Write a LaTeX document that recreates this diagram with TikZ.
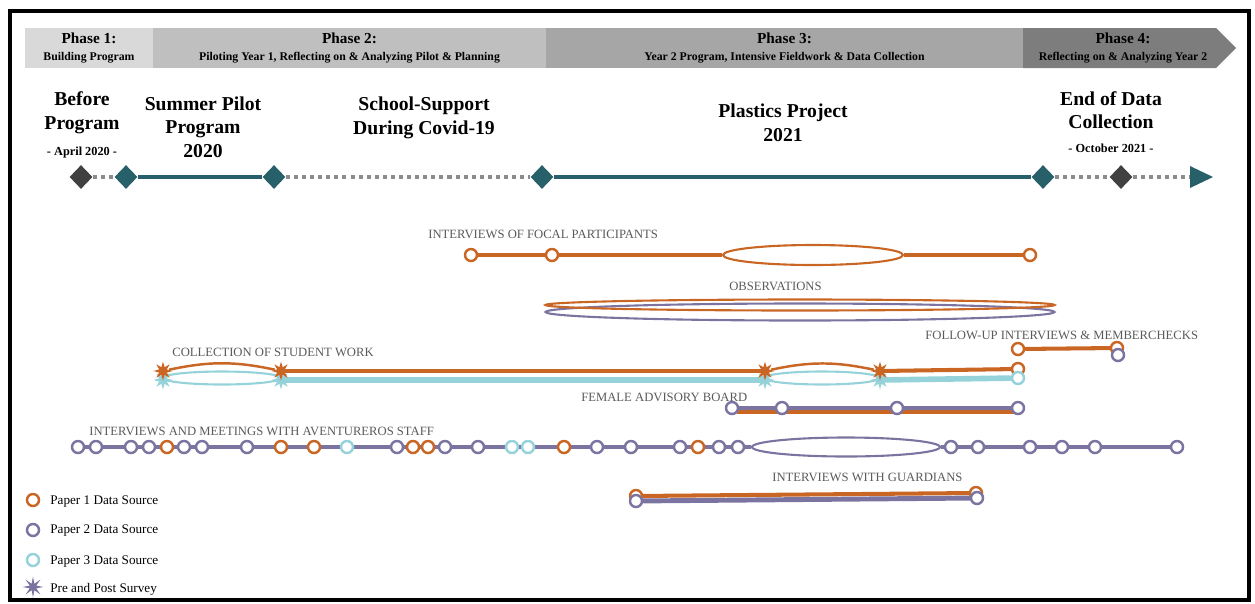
\documentclass[tikz,border=0pt]{standalone}
\usepackage{fontspec}
\setmainfont{Liberation Serif}
\usetikzlibrary{shapes.geometric,backgrounds}

\definecolor{orng}{RGB}{202,102,36}
\definecolor{purp}{RGB}{124,116,160}
\definecolor{aqua}{RGB}{150,210,218}
\definecolor{tealdk}{RGB}{40,96,106}
\definecolor{dkgray}{RGB}{64,64,64}
\definecolor{dotgray}{RGB}{140,140,140}
\definecolor{labgray}{RGB}{90,90,90}
\definecolor{ph1}{RGB}{217,217,217}
\definecolor{ph2}{RGB}{191,191,191}
\definecolor{ph3}{RGB}{166,166,166}
\definecolor{ph4}{RGB}{125,125,125}

\tikzset{
  src/.style={circle, draw=#1, fill=white, line width=1.4pt, minimum size=0.24cm, inner sep=0pt},
  survey/.style={star, star points=8, star point ratio=2.3, fill=#1, inner sep=0pt, minimum size=0.38cm},
  milestone/.style={diamond, fill=#1, inner sep=0pt, minimum width=0.46cm, minimum height=0.48cm},
  rowline/.style={draw=#1, line width=2.3pt},
  ring/.style={ellipse, draw=#1, line width=1.2pt, inner sep=0pt},
  rowlabel/.style={text=labgray, font=\fontsize{7.2}{8}\selectfont, inner sep=0pt, anchor=west},
  heading/.style={font=\fontsize{11.2}{13.4}\selectfont\bfseries, align=center, inner sep=0pt},
  datenote/.style={font=\fontsize{7}{8}\selectfont\bfseries, inner sep=0pt},
  phasebox/.style={fill=#1, minimum height=0.8cm, inner sep=0pt, align=center,
    font=\fontsize{6.7}{9.6}\selectfont\bfseries},
  dotline/.style={draw=dotgray, line width=2.8pt, dash pattern=on 2.3pt off 2.3pt},
  timeline/.style={draw=tealdk, line width=2.8pt},
}

\begin{document}
\begin{tikzpicture}[x=0.02cm, y=-0.02cm]
\useasboundingbox (0,0) rectangle (1255,603);
\draw[line width=2.8pt] (10,11) rectangle (1249,600);

% phases
\node[phasebox=ph1, minimum width=2.56cm] (phase1) at (89,48)
  {{\fontsize{8.7}{9.6}\selectfont Phase 1:}\\Building Program};
\node[phasebox=ph2, minimum width=7.86cm] (phase2) at (349.5,48)
  {{\fontsize{8.7}{9.6}\selectfont Phase 2:}\\Piloting Year 1, Reflecting on \& Analyzing Pilot \& Planning};
\node[phasebox=ph3, minimum width=9.54cm] (phase3) at (784.5,48)
  {{\fontsize{8.7}{9.6}\selectfont Phase 3:}\\Year 2 Program, Intensive Fieldwork \& Data Collection};
\fill[ph4] (1023,28) -- (1216,28) -- (1236,48) -- (1216,68) -- (1023,68) -- cycle;
\node[phasebox=none, fill opacity=0, text opacity=1] (phase4) at (1123,48)
  {{\fontsize{8.7}{9.6}\selectfont Phase 4:}\\Reflecting on \& Analyzing Year 2};

% timeline
\node[milestone=dkgray] (d1) at (81,177) {};
\node[milestone=tealdk] (d2) at (126,177) {};
\node[milestone=tealdk] (d3) at (274,177) {};
\node[milestone=tealdk] (d4) at (542,177) {};
\node[milestone=tealdk] (d5) at (1043,177) {};
\node[milestone=dkgray] (d6) at (1121,177) {};
\coordinate (tip) at (1190,177);
\fill[tealdk] (tip) ++(0,-11) -- ++(23,11) -- ++(-23,11) -- cycle;
\begin{scope}[on background layer]
\draw[dotline] (d1) -- (d2);
\draw[timeline] (d2) -- (d3);
\draw[dotline] (d3) -- (d4);
\draw[timeline] (d4) -- (d5);
\draw[dotline] (d5) -- (d6);
\draw[dotline] (d6) -- (tip);
\end{scope}

\node[heading] (before) at (82,113) {Before\\Program};
\node[datenote] (april) at (82,153) {- April 2020 -};
\node[heading] (summer) at (203,127) {Summer Pilot\\Program\\2020};
\node[heading] (covid) at (424,118) {School-Support\\During Covid-19};
\node[heading] (plastics) at (783,123) {Plastics Project\\2021};
\node[heading] (enddata) at (1111,110) {End of Data\\Collection};
\node[datenote] (october) at (1111,148) {- October 2021 -};

% interviews of focal participants
\node[rowlabel] (focal) at (428,234) {INTERVIEWS OF FOCAL PARTICIPANTS};
\node[src=orng] (f1) at (471,255) {};
\node[src=orng] (f2) at (552,255) {};
\node[src=orng] (f3) at (1030,255) {};
\node[ring=orng, minimum width=3.6cm, minimum height=0.4cm] (fe) at (813,255) {};
\begin{scope}[on background layer]
\draw[rowline=orng] (f1) -- (f2) -- (fe) -- (f3);
\end{scope}

% observations
\node[rowlabel] (obs) at (729,286) {OBSERVATIONS};
\node[ring=purp, minimum width=10.18cm, minimum height=0.34cm] (ob2) at (800,312) {};
\node[ring=orng, minimum width=10.18cm, minimum height=0.22cm] (ob1) at (800,305) {};

% follow-up
\node[rowlabel] (follow) at (925,335) {FOLLOW-UP INTERVIEWS \& MEMBERCHECKS};
\node[src=orng] (u1) at (1018,349) {};
\node[src=orng] (u2) at (1117,348) {};
\node[src=purp] (u3) at (1118,355) {};
\begin{scope}[on background layer]
\draw[rowline=orng] (u1) -- (u2);
\end{scope}

% student work
\node[rowlabel] (collect) at (172,352) {COLLECTION OF STUDENT WORK};
\node[ring=aqua, minimum width=2.36cm, minimum height=0.26cm] (ce1) at (222,378) {};
\node[ring=aqua, minimum width=2.3cm, minimum height=0.26cm] (ce2) at (822,378) {};
\node[survey=aqua] (st1) at (163,380) {};
\node[survey=aqua] (st2) at (281,380) {};
\node[survey=aqua] (st3) at (765,380) {};
\node[survey=aqua] (st4) at (880,380) {};
\node[survey=orng] (so1) at (163,371) {};
\node[survey=orng] (so2) at (281,371) {};
\node[survey=orng] (so3) at (765,371) {};
\node[survey=orng] (so4) at (880,371) {};
\node[src=orng] (co) at (1018,369) {};
\node[src=aqua] (ca) at (1018,378) {};
\draw[orng, line width=1.4pt] (so1) to[bend left=12] (so2);
\draw[orng, line width=1.4pt] (so3) to[bend left=12] (so4);
\begin{scope}[on background layer]
\draw[rowline=orng] (so2.center) -- (so3.center);
\draw[rowline=orng] (so4.center) -- (co);
\draw[rowline=aqua, line width=3.2pt] (st2.center) -- (st3.center);
\draw[rowline=aqua, line width=3.2pt] (st4.center) -- (ca);
\end{scope}

% female advisory board
\node[rowlabel] (female) at (581,397) {FEMALE ADVISORY BOARD};
\coordinate (ao1) at (737,412);
\coordinate (ao2) at (1018,412);
\node[src=purp] (a1) at (732,408) {};
\node[src=purp] (a2) at (782,408) {};
\node[src=purp] (a3) at (897,408) {};
\node[src=purp] (a4) at (1018,408) {};
\begin{scope}[on background layer]
\draw[rowline=orng] (ao1) -- (ao2);
\draw[rowline=purp, line width=2.8pt] (a1) -- (a2) -- (a3) -- (a4);
\end{scope}

% staff interviews and meetings
\node[rowlabel] (staff) at (89,431) {INTERVIEWS AND MEETINGS WITH AVENTUREROS STAFF};
\node[ring=purp, minimum width=3.76cm, minimum height=0.38cm] (se) at (846,447) {};
\foreach \x/\c [count=\i] in {78/purp,96/purp,131/purp,149/purp,167/orng,184/purp,
  202/purp,247/purp,281/orng,314/orng,347/aqua,397/purp,413/orng,428/orng,445/purp,
  478/purp,512/aqua,528/aqua,564/orng,597/purp,631/purp,680/purp,698/orng,719/purp,
  738/purp,951/purp,978/purp,1030/purp,1062/purp,1095/purp,1177/purp}
  \node[src=\c] (s\i) at (\x,447) {};
\begin{scope}[on background layer]
\draw[rowline=purp] (s1) -- (s25) -- (se) -- (s26) -- (s31);
\end{scope}

% guardians
\node[rowlabel] (guard) at (772,477) {INTERVIEWS WITH GUARDIANS};
\node[src=orng] (g1) at (636,496) {};
\node[src=orng] (g2) at (976,493) {};
\node[src=purp] (g3) at (636,501) {};
\node[src=purp] (g4) at (977,498) {};
\begin{scope}[on background layer]
\draw[rowline=orng] (g1) -- (g2);
\draw[rowline=purp, line width=2.8pt] (g3) -- (g4);
\end{scope}

% legend
\node[src=orng] (l1) at (33,500) {};
\node[src=purp] (l2) at (33,530) {};
\node[src=aqua] (l3) at (33,560) {};
\node[survey=purp, minimum size=0.42cm, star point ratio=3] (l4) at (33,587) {};
\node[anchor=west, font=\fontsize{7.5}{9}\selectfont, inner sep=0pt] at (50,502) {Paper 1 Data Source};
\node[anchor=west, font=\fontsize{7.5}{9}\selectfont, inner sep=0pt] at (50,531) {Paper 2 Data Source};
\node[anchor=west, font=\fontsize{7.5}{9}\selectfont, inner sep=0pt] at (50,562) {Paper 3 Data Source};
\node[anchor=west, font=\fontsize{7.5}{9}\selectfont, inner sep=0pt] at (50,589) {Pre and Post Survey};
\end{tikzpicture}
\end{document}
